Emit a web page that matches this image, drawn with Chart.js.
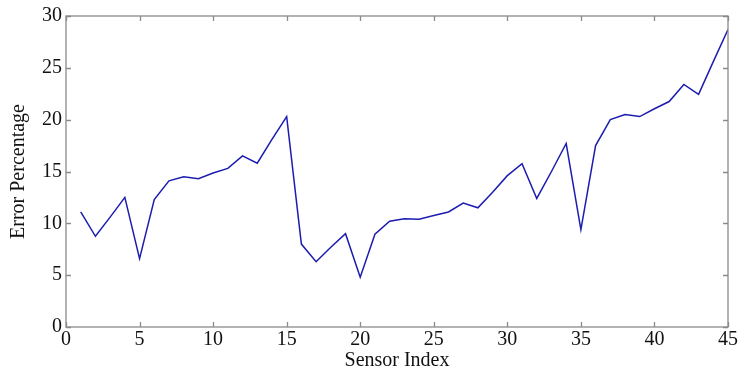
<!DOCTYPE html>
<html>
<head>
<meta charset="utf-8">
<script src="https://cdn.jsdelivr.net/npm/chart.js@4.4.1/dist/chart.umd.min.js"></script>
<style>
html,body{margin:0;padding:0;background:#fff;}
#wrap{width:739px;height:369px;position:relative;}
</style>
</head>
<body>
<div id="wrap"><canvas id="c" width="739" height="369"></canvas></div>
<script>
const sensorIndex = [1,2,3,4,5,6,7,8,9,10,11,12,13,14,15,16,17,18,19,20,21,22,23,24,25,26,27,28,29,30,31,32,33,34,35,36,37,38,39,40,41,42,43,44,45];
const errorPercentage = [11.1,8.75,10.6,12.5,6.6,12.3,14.1,14.5,14.3,14.85,15.3,16.5,15.8,18.1,20.3,8.0,6.3,7.7,9.0,4.8,8.95,10.2,10.45,10.4,10.75,11.1,11.95,11.5,13.0,14.6,15.75,12.4,15.0,17.7,9.4,17.5,20.0,20.5,20.3,21.05,21.75,23.4,22.45,25.6,28.7];
const xTicks = [0,5,10,15,20,25,30,35,40,45];
const yTicks = [0,5,10,15,20,25,30];

const FRAME = '#8a8a8a';
const serif = '"Liberation Serif", "DejaVu Serif", serif';

const frameTicks = {
  id: 'frameTicks',
  afterDatasetsDraw(chart) {
    const {ctx, chartArea: a, scales: {x, y}} = chart;
    ctx.save();
    ctx.strokeStyle = FRAME;
    ctx.lineWidth = 1.3;
    ctx.strokeRect(a.left, a.top, a.right - a.left, a.bottom - a.top);
    const L = 5;
    ctx.beginPath();
    xTicks.forEach(v => {
      const px = Math.round(x.getPixelForValue(v)) + 0.5;
      ctx.moveTo(px, a.bottom); ctx.lineTo(px, a.bottom - L);
      ctx.moveTo(px, a.top); ctx.lineTo(px, a.top + L);
    });
    yTicks.forEach(v => {
      const py = Math.round(y.getPixelForValue(v)) + 0.5;
      ctx.moveTo(a.left, py); ctx.lineTo(a.left + L, py);
      ctx.moveTo(a.right, py); ctx.lineTo(a.right - L, py);
    });
    ctx.stroke();
    ctx.restore();
  }
};

new Chart(document.getElementById('c'), {
  type: 'line',
  data: {
    datasets: [{
      data: sensorIndex.map((s, i) => ({x: s, y: errorPercentage[i]})),
      borderColor: '#1c1cb0',
      borderWidth: 1.5,
      pointRadius: 0,
      tension: 0,
      fill: false
    }]
  },
  options: {
    responsive: false,
    animation: false,
    devicePixelRatio: 1,
    layout: {padding: {top: 16, right: 9, left: 0, bottom: 0}},
    plugins: {legend: {display: false}, tooltip: {enabled: false}},
    scales: {
      x: {
        type: 'linear', min: 0, max: 45,
        afterBuildTicks: s => { s.ticks = xTicks.map(v => ({value: v})); },
        afterFit: s => { s.height = 42; },
        grid: {display: false, drawTicks: false},
        border: {display: false},
        ticks: {color: '#111', padding: 1, font: {family: serif, size: 20}},
        title: {display: true, text: 'Sensor Index', color: '#111', padding: {top: 0, bottom: 0}, font: {family: serif, size: 20, lineHeight: 0.8}}
      },
      y: {
        type: 'linear', min: 0, max: 30,
        afterBuildTicks: s => { s.ticks = yTicks.map(v => ({value: v})); },
        afterFit: s => { s.width = 66; },
        grid: {display: false, drawTicks: false},
        border: {display: false},
        ticks: {color: '#111', padding: 4, font: {family: serif, size: 20}},
        title: {display: true, text: 'Error Percentage', color: '#111', padding: {top: 7, bottom: 0}, font: {family: serif, size: 20, lineHeight: 1.2}}
      }
    }
  },
  plugins: [frameTicks]
});
</script>
</body>
</html>
